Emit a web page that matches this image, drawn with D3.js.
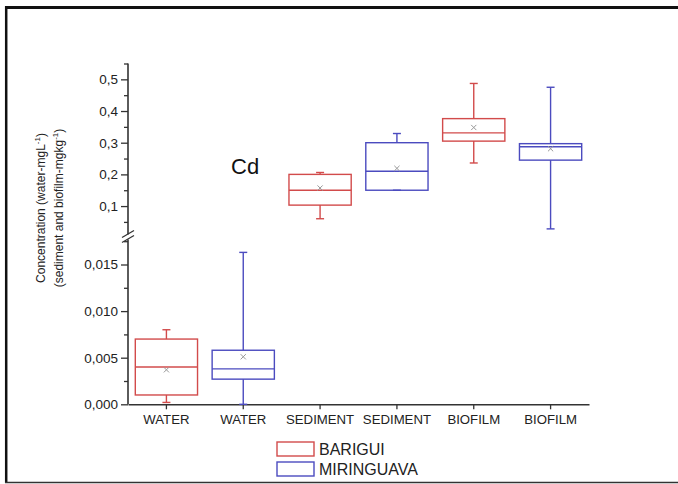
<!DOCTYPE html>
<html>
<head>
<meta charset="utf-8">
<script src="https://cdn.jsdelivr.net/npm/d3@7"></script>
<style>
  html, body { margin: 0; padding: 0; background: #fff; }
  svg { display: block; font-family: Arial, "Liberation Sans", sans-serif; }
</style>
</head>
<body>
<svg id="chart" width="678" height="484"></svg>
<script>
// Cd concentrations per matrix and river
const categories = ["WATER", "WATER", "SEDIMENT", "SEDIMENT", "BIOFILM", "BIOFILM"];
const rivers     = ["BARIGUI", "MIRINGUAVA", "BARIGUI", "MIRINGUAVA", "BARIGUI", "MIRINGUAVA"];
const whiskerLow  = [0.0002, 0.0000, 0.060, 0.150, 0.236, 0.028];
const q1          = [0.0010, 0.0027, 0.103, 0.150, 0.305, 0.245];
const median      = [0.0040, 0.0038, 0.150, 0.210, 0.331, 0.287];
const q3          = [0.0070, 0.0058, 0.200, 0.300, 0.376, 0.297];
const whiskerHigh = [0.0080, 0.0163, 0.206, 0.329, 0.487, 0.475];
const means       = [0.0037, 0.0051, 0.157, 0.219, 0.348, 0.281];

// broken axis: lower segment for water, upper segment for sediment/biofilm
const lowerMajor = [0, 0.005, 0.010, 0.015];
const lowerMinor = [0.0025, 0.0075, 0.0125, 0.0175];
const upperMajor = [0.1, 0.2, 0.3, 0.4, 0.5];
const upperMinor = [0.05, 0.15, 0.25, 0.35, 0.45, 0.55];
const lowerLabels = ["0,000", "0,005", "0,010", "0,015"];
const upperLabels = ["0,1", "0,2", "0,3", "0,4", "0,5"];

const legendItems = ["BARIGUI", "MIRINGUAVA"];
const colors = { BARIGUI: "#d24b4b", MIRINGUAVA: "#4b4bbf" };

const svg = d3.select("#chart");
const axisColor = "#333";
const fontFamily = "Arial, 'Liberation Sans', sans-serif";

// outer frame
svg.append("line").attr("x1", 5).attr("x2", 678).attr("y1", 7.5).attr("y2", 7.5)
  .attr("stroke", "#111").attr("stroke-width", 3);
svg.append("line").attr("x1", 6.2).attr("x2", 6.2).attr("y1", 6).attr("y2", 483)
  .attr("stroke", "#111").attr("stroke-width", 2.5);
svg.append("line").attr("x1", 5).attr("x2", 678).attr("y1", 482.5).attr("y2", 482.5)
  .attr("stroke", "#333").attr("stroke-width", 1.5);

const xLeft = 128, xRight = 589, baseY = 404.3;
const x = d3.scaleBand().domain(d3.range(categories.length)).range([xLeft, xRight]);
const yLow = d3.scaleLinear().domain([0, 0.0175]).range([baseY, 241.2]);
const yUp  = d3.scaleLinear().domain([0.015, 0.55]).range([233, 63.5]);
const yOf = (v, i) => (categories[i] === "WATER" ? yLow(v) : yUp(v));

// y axis, upper segment
const gUp = svg.append("g").attr("transform", `translate(${xLeft},0)`)
  .call(d3.axisLeft(yUp).tickValues(upperMajor).tickSize(7).tickPadding(3)
    .tickFormat((d, i) => upperLabels[i]));
gUp.append("g").call(d3.axisLeft(yUp).tickValues(upperMinor).tickSize(4).tickFormat(""));
// y axis, lower segment
const gLow = svg.append("g").attr("transform", `translate(${xLeft},0)`)
  .call(d3.axisLeft(yLow).tickValues(lowerMajor).tickSize(7).tickPadding(3)
    .tickFormat((d, i) => lowerLabels[i]));
gLow.append("g").call(d3.axisLeft(yLow).tickValues(lowerMinor).tickSize(4).tickFormat(""));

[gUp, gLow].forEach(g => {
  g.selectAll(".domain").remove();
  g.selectAll("line").attr("stroke", axisColor).attr("stroke-width", 1.3);
  g.selectAll("text").attr("font-size", 13.5).attr("fill", "#222")
    .attr("font-family", fontFamily);
});

// axis spine with break
svg.append("line").attr("x1", xLeft).attr("x2", xLeft).attr("y1", yUp(0.55)).attr("y2", 234.5)
  .attr("stroke", axisColor).attr("stroke-width", 1.6);
svg.append("line").attr("x1", xLeft).attr("x2", xLeft).attr("y1", 239.5).attr("y2", baseY)
  .attr("stroke", axisColor).attr("stroke-width", 1.6);
[[122, 237.5, 134, 230.5], [122, 242.5, 134, 235.5]].forEach(s => {
  svg.append("line").attr("x1", s[0]).attr("y1", s[1]).attr("x2", s[2]).attr("y2", s[3])
    .attr("stroke", axisColor).attr("stroke-width", 1.3);
});

// x axis
const gx = svg.append("g").attr("transform", `translate(0,${baseY})`)
  .call(d3.axisBottom(x).tickSize(5).tickPadding(5).tickSizeOuter(0)
    .tickFormat(i => categories[i]));
gx.select(".domain").attr("stroke", axisColor).attr("stroke-width", 1.6);
gx.selectAll("line").attr("stroke", axisColor).attr("stroke-width", 1.3);
gx.selectAll("text").attr("font-size", 13.2).attr("fill", "#222")
  .attr("font-family", fontFamily);

// boxes
const boxW = x.bandwidth() * 0.81, capW = 8;
const boxes = svg.append("g").selectAll("g").data(d3.range(categories.length)).join("g")
  .attr("stroke", i => colors[rivers[i]]).attr("fill", "none").attr("stroke-width", 1.4);
boxes.each(function (i) {
  const g = d3.select(this);
  const cx = x(i) + x.bandwidth() / 2;
  const y = v => yOf(v, i);
  g.append("line").attr("x1", cx).attr("x2", cx).attr("y1", y(q3[i])).attr("y2", y(whiskerHigh[i]));
  g.append("line").attr("x1", cx).attr("x2", cx).attr("y1", y(q1[i])).attr("y2", y(whiskerLow[i]));
  g.append("line").attr("x1", cx - capW / 2).attr("x2", cx + capW / 2)
    .attr("y1", y(whiskerHigh[i])).attr("y2", y(whiskerHigh[i]));
  g.append("line").attr("x1", cx - capW / 2).attr("x2", cx + capW / 2)
    .attr("y1", y(whiskerLow[i])).attr("y2", y(whiskerLow[i]));
  g.append("rect").attr("x", cx - boxW / 2).attr("width", boxW)
    .attr("y", y(q3[i])).attr("height", y(q1[i]) - y(q3[i]));
  g.append("line").attr("x1", cx - boxW / 2).attr("x2", cx + boxW / 2)
    .attr("y1", y(median[i])).attr("y2", y(median[i]));
  // mean marker
  const my = y(means[i]), s = 2.6;
  g.append("path").attr("d", `M${cx - s},${my - s}L${cx + s},${my + s}M${cx - s},${my + s}L${cx + s},${my - s}`)
    .attr("stroke", "#999").attr("stroke-width", 1);
});

// element label
svg.append("text").attr("x", 231).attr("y", 174).attr("font-size", 22).attr("fill", "#111")
  .text("Cd");

// y axis title (two lines)
const title = svg.append("text").attr("transform", "translate(45,208) rotate(-90)")
  .attr("text-anchor", "middle").attr("font-size", 12).attr("fill", "#222");
title.append("tspan").text("Concentration (water-mgL");
title.append("tspan").attr("font-size", 8).attr("dy", -5).text("-1");
title.append("tspan").attr("dy", 5).text(")");
const title2 = svg.append("text").attr("transform", "translate(63,208) rotate(-90)")
  .attr("text-anchor", "middle").attr("font-size", 12).attr("fill", "#222");
title2.append("tspan").text("(sediment and biofilm-mgkg");
title2.append("tspan").attr("font-size", 8).attr("dy", -5).text("-1");
title2.append("tspan").attr("dy", 5).text(")");

// legend
const leg = svg.append("g").selectAll("g").data(legendItems).join("g")
  .attr("transform", (d, i) => `translate(277,${442 + i * 20})`);
leg.append("rect").attr("width", 37).attr("height", 14)
  .attr("fill", "none").attr("stroke", d => colors[d]).attr("stroke-width", 1.4);
leg.append("text").attr("x", 42).attr("y", 13).attr("font-size", 16).attr("fill", "#222")
  .text(d => d);
</script>
</body>
</html>
